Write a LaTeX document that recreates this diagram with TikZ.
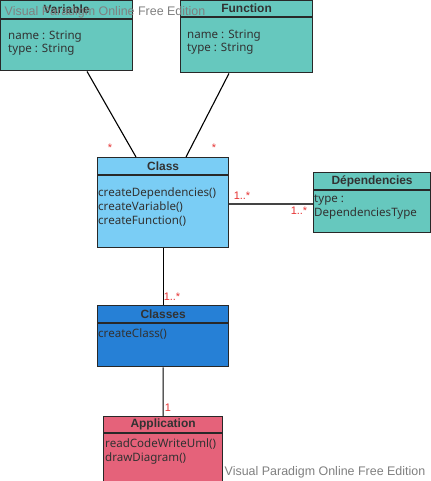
\documentclass[tikz,border=0pt]{standalone}
\usepackage{fontspec}
\setmainfont{Noto Sans}
\newfontfamily\arialfont{Liberation Sans}
\usetikzlibrary{%
   calc,%
   positioning%
}
\definecolor{classTeal}{RGB}{102,200,190}
\definecolor{classSky}{RGB}{122,205,245}
\definecolor{classBlue}{RGB}{38,128,214}
\definecolor{classRose}{RGB}{229,98,122}
\definecolor{lineGray}{RGB}{40,40,40}
\definecolor{joinGray}{RGB}{68,68,68}
\definecolor{textGray}{RGB}{50,50,50}
\definecolor{multRed}{RGB}{230,50,50}
\definecolor{markGray}{RGB}{128,128,128}

\begin{document}
\begin{tikzpicture}[x=1bp,y=-1bp,header/.style={
	rectangle,
	draw=lineGray,
	line width=1.2bp,
	anchor=north west,
	inner sep=0pt,
	text=textGray,
	font=\arialfont\bfseries\fontsize{12}{14}\selectfont
	},compartment/.style={
	rectangle,draw=lineGray,line width=1.2bp,
	anchor=north west,inner sep=0pt
	},member/.style={
	anchor=base west,inner sep=0pt,align=left,
	text=textGray,font=\fontsize{11.6}{14}\selectfont
	},mult/.style={
	inner sep=0pt,text=multRed,font=\arialfont\fontsize{11}{12}\selectfont
	},link/.style={
	draw=black,line width=1.1bp
	},watermark/.style={
	inner sep=0pt,text=markGray,font=\arialfont\fontsize{12.5}{14}\selectfont
	}
]
\useasboundingbox[fill=white] (0,0) rectangle (430,481);

% Variable
\node (varH) [header, fill=classTeal, minimum width=132bp, minimum height=18bp] at (0,0) {Variable};
\node (varB) [compartment, fill=classTeal, minimum width=132bp, minimum height=51bp] at (varH.south west) {};
\node (varM) [member] at (8,53) {name : String\\type : String};
% Function
\node (funH) [header, fill=classTeal, minimum width=132bp, minimum height=16bp] at (180,0) {Function};
\node (funB) [compartment, fill=classTeal, minimum width=132bp, minimum height=55bp] at (funH.south west) {};
\node (funM) [member] at (187,52) {name : String\\type : String};
% Class
\node (classH) [header, fill=classSky, minimum width=131bp, minimum height=17bp] at (97,157) {Class};
\node (classB) [compartment, fill=classSky, minimum width=131bp, minimum height=72bp] at (classH.south west) {};
\node (classM) [member] at (98,224) {createDependencies()\\createVariable()\\createFunction()};
% Dependencies
\node (depH) [header, fill=classTeal, minimum width=117bp, minimum height=17bp] at (313,172) {Dépendencies};
\node (depB) [compartment, fill=classTeal, minimum width=117bp, minimum height=42bp] at (depH.south west) {};
\node (depM) [member] at (314,216) {type :\\DependenciesType};
% Classes
\node (classesH) [header, fill=classBlue, minimum width=131bp, minimum height=17bp] at (97,305) {Classes};
\node (classesB) [compartment, fill=classBlue, minimum width=131bp, minimum height=43bp] at (classesH.south west) {};
\node (classesM) [member] at (98,337) {createClass()};
% Application
\node (appH) [header, fill=classRose, minimum width=119bp, minimum height=16bp] at (103,416) {Application};
\node (appB) [compartment, fill=classRose, minimum width=119bp, minimum height=48bp] at (appH.south west) {};
\node (appM) [member] at (105,461) {readCodeWriteUml()\\drawDiagram()};

% links
\draw[link] ($(varB.south west)+(87,0)$) -- ($(classH.north west)+(39,0)$);
\draw[link] ($(funB.south west)+(49,0)$) -- ($(classH.north west)+(89,0)$);
\coordinate (depJoin) at ($(classB.east)+(0,-8)$);
\draw[link, draw=joinGray, line width=2bp] (depJoin) -- (depJoin -| depB.west);
\draw[link] (classB.south) -- (classesH.north);
\draw[link] (classesB.south) -- (appH.north);

% multiplicities
\node (mVar) [mult] at (110,148) {*};
\node (mFun) [mult] at (214,148) {*};
\node (mClassDep) [mult] at (242,196) {1..*};
\node (mDep) [mult] at (299,211) {1..*};
\node (mClasses) [mult] at (172,297) {1..*};
\node (mApp) [mult] at (168,408) {1};

\node (markTop) [watermark] at (105,12) {Visual Paradigm Online Free Edition};
\node (markBottom) [watermark] at (325,472) {Visual Paradigm Online Free Edition};
\end{tikzpicture}
\end{document}
